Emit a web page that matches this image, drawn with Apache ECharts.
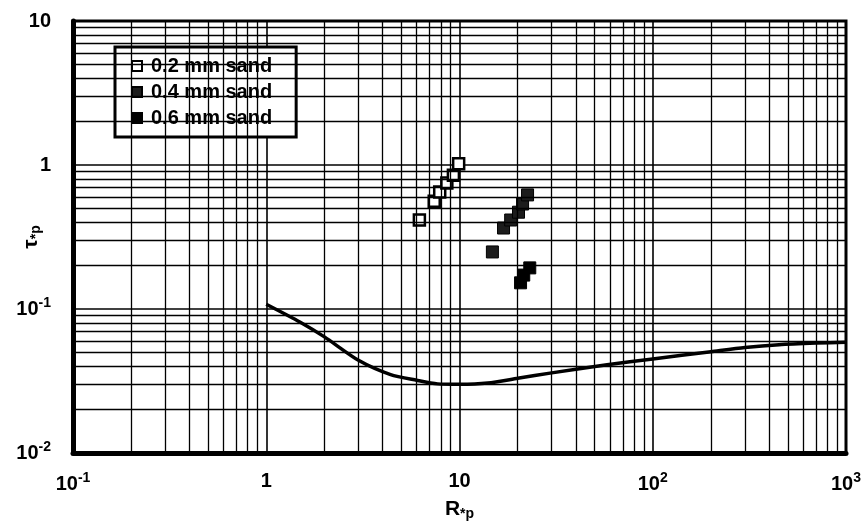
<!DOCTYPE html>
<html>
<head>
<meta charset="utf-8">
<script src="https://cdn.jsdelivr.net/npm/echarts@6/dist/echarts.min.js"></script>
<style>
  html, body { margin: 0; padding: 0; background: #fff; }
  #chart { width: 863px; height: 523px; }
</style>
</head>
<body>
<div id="chart"></div>
<script>
// tick positions and labels
const xTicks = [0.1, 1, 10, 100, 1000]
const xTickLabels = ['{b|10}{s|-1}', '{b|1}', '{b|10}', '{b|10}{s|2}', '{b|10}{s|3}']
const yTicks = [0.01, 0.1, 1, 10]
const yTickLabels = ['{b|10}{s|-2}', '{b|10}{s|-1}', '{b|1}', '{b|10}']

// minor grid multipliers (2..9 per decade)
const minorSteps = [2, 3, 4, 5, 6, 7, 8, 9]

// critical curve
const curveX = [1, 1.5, 2, 3, 4.4, 6, 7.7, 10, 14, 20, 30, 58, 100, 200, 300, 450, 700, 1000]
const curveY = [0.108, 0.081, 0.064, 0.044, 0.035, 0.032, 0.0302, 0.0300, 0.0306, 0.033, 0.036, 0.041, 0.045, 0.0505, 0.054, 0.0565, 0.058, 0.0588]

// measured points
const sand02X = [6.2, 7.4, 7.9, 8.6, 9.3, 9.9]
const sand02Y = [0.415, 0.56, 0.65, 0.75, 0.85, 1.02]
const sand04X = [14.8, 16.9, 18.4, 20.2, 21.2, 22.5]
const sand04Y = [0.249, 0.365, 0.415, 0.47, 0.536, 0.62]
const sand06X = [20.7, 21.5, 23.1]
const sand06Y = [0.152, 0.172, 0.193]

const pairs = (xs, ys) => xs.map((x, i) => [x, ys[i]])

function minorLines(ticks, key) {
  const lines = []
  ticks.slice(0, -1).forEach((t) => {
    minorSteps.forEach((m) => {
      lines.push({ [key]: t * m })
    })
  })
  return lines
}

const font = 'Liberation Sans'

const richLabel = {
  b: { fontSize: 20, fontFamily: font, fontWeight: 'bold', color: '#000' },
  s: { fontSize: 14, fontFamily: font, fontWeight: 'bold', color: '#000', padding: [0, 0, 12, 0] }
}

const richName = {
  m: { fontSize: 21, fontFamily: font, fontWeight: 'bold', color: '#000' },
  sub: { fontSize: 14, fontFamily: font, fontWeight: 'bold', color: '#000', padding: [10, 0, 0, 0] }
}

const chart = echarts.init(document.getElementById('chart'))

chart.setOption({
  animation: false,
  backgroundColor: '#fff',
  grid: {
    left: 73,
    right: 17,
    top: 21,
    bottom: 70,
    containLabel: false,
    outerBoundsMode: 'none',
    show: true,
    borderColor: '#000',
    borderWidth: 3
  },
  legend: {
    data: ['0.2 mm sand', '0.4 mm sand', '0.6 mm sand'],
    orient: 'vertical',
    left: 115,
    top: 47,
    padding: [9, 24, 9, 16],
    itemGap: 6,
    itemWidth: 10,
    itemHeight: 10,
    backgroundColor: '#fff',
    borderColor: '#000',
    borderWidth: 3,
    textStyle: { fontSize: 20, fontFamily: font, fontWeight: 'bold', color: '#000', padding: [0, 0, 0, 4] }
  },
  xAxis: {
    type: 'log',
    logBase: 10,
    min: 0.1,
    max: 1000,
    name: '{m|R}{sub|*p}',
    nameLocation: 'middle',
    nameGap: 44,
    nameMoveOverlap: false,
    nameTextStyle: { rich: richName },
    axisLine: { lineStyle: { color: '#000', width: 5 } },
    axisTick: { show: false },
    axisLabel: {
      margin: 18,
      formatter: (v) => {
        const i = xTicks.findIndex((t) => Math.abs(Math.log10(t) - Math.log10(v)) < 1e-6)
        return i >= 0 ? xTickLabels[i] : ''
      },
      rich: richLabel
    },
    splitLine: { show: true, lineStyle: { color: '#000', width: 1.6 } }
  },
  yAxis: {
    type: 'log',
    logBase: 10,
    min: 0.01,
    max: 10,
    name: '{m|τ}{sub|*p}',
    nameLocation: 'middle',
    nameGap: 30,
    nameMoveOverlap: false,
    nameTextStyle: { rich: richName },
    axisLine: { lineStyle: { color: '#000', width: 5 } },
    axisTick: { show: false },
    axisLabel: {
      margin: 22,
      formatter: (v) => {
        const i = yTicks.findIndex((t) => Math.abs(Math.log10(t) - Math.log10(v)) < 1e-6)
        return i >= 0 ? yTickLabels[i] : ''
      },
      rich: richLabel
    },
    splitLine: { show: true, lineStyle: { color: '#000', width: 1.6 } }
  },
  series: [
    {
      name: 'minor grid',
      type: 'line',
      data: [],
      z: 1,
      silent: true,
      markLine: {
        silent: true,
        symbol: 'none',
        label: { show: false },
        animation: false,
        lineStyle: { color: '#000', width: 1.3, type: 'solid' },
        data: minorLines(xTicks, 'xAxis').concat(minorLines(yTicks, 'yAxis'))
      }
    },
    {
      name: 'curve',
      type: 'line',
      data: pairs(curveX, curveY),
      smooth: 0.25,
      showSymbol: false,
      z: 3,
      lineStyle: { color: '#000', width: 3.5 }
    },
    {
      name: '0.2 mm sand',
      type: 'scatter',
      symbol: 'rect',
      symbolSize: 11,
      z: 4,
      data: pairs(sand02X, sand02Y),
      itemStyle: { color: '#fff', borderColor: '#000', borderWidth: 2.5, opacity: 1 }
    },
    {
      name: '0.4 mm sand',
      type: 'scatter',
      symbol: 'rect',
      symbolSize: 12,
      z: 4,
      data: pairs(sand04X, sand04Y),
      itemStyle: { color: '#1c1c1c', borderColor: '#000', borderWidth: 1, opacity: 1 }
    },
    {
      name: '0.6 mm sand',
      type: 'scatter',
      symbol: 'rect',
      symbolSize: 12,
      z: 4,
      data: pairs(sand06X, sand06Y),
      itemStyle: { color: '#000', borderColor: '#000', borderWidth: 1, opacity: 1 }
    }
  ]
})
</script>
</body>
</html>
